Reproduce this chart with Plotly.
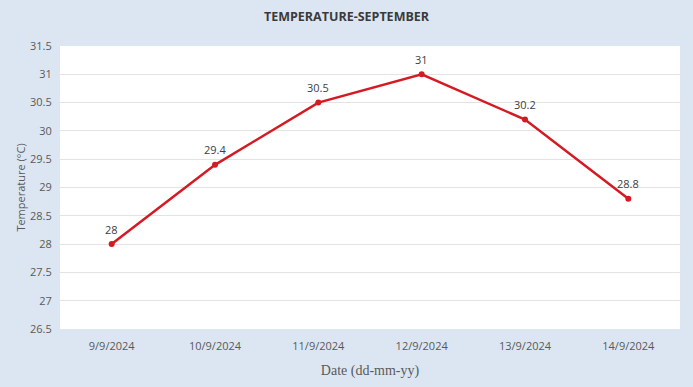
import plotly.graph_objects as go

dates = ["9/9/2024", "10/9/2024", "11/9/2024", "12/9/2024", "13/9/2024", "14/9/2024"]
temps = [28, 29.4, 30.5, 31, 30.2, 28.8]
y_ticks = [26.5, 27, 27.5, 28, 28.5, 29, 29.5, 30, 30.5, 31, 31.5]

fig = go.Figure(go.Scatter(
    x=dates, y=temps, mode="lines+markers",
    line=dict(color="#d41a22", width=2.5),
    marker=dict(color="#d41a22", size=6),
    cliponaxis=False,
))

for d, v in zip(dates, temps):
    fig.add_annotation(x=d, y=v, text=f"{v:g}", showarrow=False, yshift=15,
                       font=dict(family="Open Sans, sans-serif", size=11, color="#404040"))

fig.update_layout(
    width=693, height=387,
    margin=dict(l=60, r=13, t=46, b=58),
    paper_bgcolor="#dce6f2", plot_bgcolor="#ffffff",
    showlegend=False,
    title=dict(text="<b>TEMPERATURE-SEPTEMBER</b>", x=0.5, xanchor="center", y=0.958, yanchor="middle",
               font=dict(family="Open Sans, sans-serif", size=12.5, color="#3a3a3a")),
    xaxis=dict(type="category", range=[-0.5, 5.5], showgrid=False, zeroline=False, showline=False,
               ticks="outside", ticklen=7, tickcolor="rgba(0,0,0,0)",
               tickfont=dict(family="Open Sans, sans-serif", size=11, color="#595959"),
               title=dict(text="Date (dd-mm-yy)", standoff=12,
                          font=dict(family="Liberation Serif, serif", size=14, color="#595959"))),
    yaxis=dict(range=[26.5, 31.5], tickvals=y_ticks, ticktext=[f"{v:g}" for v in y_ticks],
               showgrid=True, gridcolor="#e3e3e3", gridwidth=1, zeroline=False, showline=False,
               ticks="outside", ticklen=5, tickcolor="rgba(0,0,0,0)",
               tickfont=dict(family="Open Sans, sans-serif", size=11, color="#595959"),
               title=dict(text="Temperature (°C)", standoff=2,
                          font=dict(family="Open Sans, sans-serif", size=11, color="#595959"))),
)

fig.write_html("out.html", config={"displayModeBar": False},
               post_script="document.body.style.margin='0';")
